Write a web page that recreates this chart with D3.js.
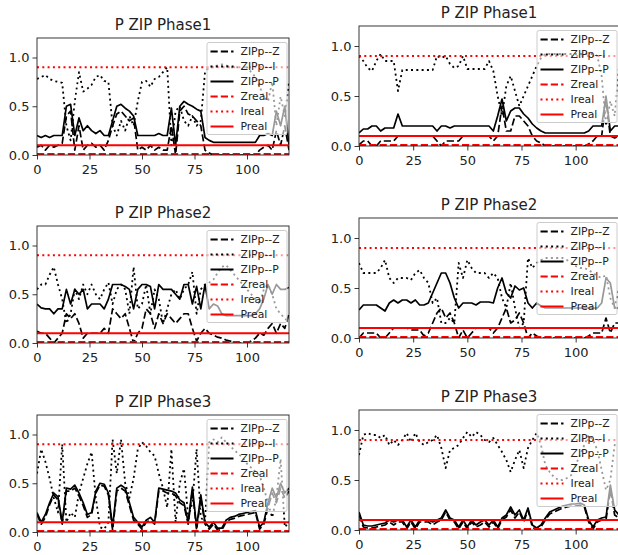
<!DOCTYPE html>
<html>
<head>
<meta charset="utf-8">
<script src="https://cdn.jsdelivr.net/npm/d3@7"></script>
<style>
body { margin: 0; background: #fff; }
text { font-family: "DejaVu Sans", sans-serif; fill: #222; }
</style>
</head>
<body>
<svg id="chart" width="618" height="555"></svg>
<script>
// sample positions (every 2 steps)
var sampleX = [0,2,4,6,8,10,12,14,16,18,20,22,24,26,28,30,32,34,36,38,40,42,44,46,48,50,52,54,56,58,
    60,62,64,66,68,70,72,74,76,78,80,82,84,86,88,90,92,94,96,98,100,102,104,106,108,110,112,114,116,118,120];

var xTicks = [0, 25, 50, 75, 100];
var yTicks = [0.0, 0.5, 1.0];
var legendLabels = ["ZIPp--Z", "ZIPp--I", "ZIPp--P", "Zreal", "Ireal", "Preal"];
var realValues = [0.01, 0.9, 0.1]; // Zreal, Ireal, Preal

// left column, phase 1
var l1Z = [.08,.10,.05,.10,.08,.10,.12,.40,.45,.05,
    .30,.05,.10,.12,.08,.10,.05,.15,.30,.42,
    .45,.40,.35,.38,.05,.08,.05,.10,.05,.08,
    .05,.05,.30,.00,.45,.50,.42,.40,.35,.30,
    .05,.02,.00,.00,.00,.00,.00,.00,.00,.00,
    .00,.00,.00,.05,.08,.10,.05,.25,.10,.30,
    .05];
var l1I = [.78,.80,.82,.78,.76,.75,.74,.30,.15,.55,
    .85,.65,.68,.72,.80,.82,.76,.75,.30,.20,
    .35,.25,.40,.30,.55,.75,.76,.70,.78,.80,
    .85,.90,.10,.45,.50,.35,.30,.40,.30,.35,
    .85,.90,.90,.92,.93,.92,.90,.90,.90,.88,
    .90,.85,.80,.70,.60,.55,.75,.30,.60,.40,
    .75];
var l1P = [.20,.18,.20,.18,.20,.20,.20,.50,.52,.20,
    .38,.25,.30,.25,.22,.25,.20,.20,.35,.50,
    .52,.48,.45,.40,.20,.20,.20,.20,.20,.22,
    .20,.20,.48,.10,.50,.55,.52,.50,.47,.45,
    .18,.15,.13,.13,.13,.13,.13,.13,.13,.13,
    .13,.13,.13,.20,.20,.22,.20,.45,.30,.50,
    .10];

// left column, phase 2
var l2Z = [.12,.10,.10,.05,.00,.05,.10,.30,.25,.30,
    .20,.05,.10,.10,.10,.10,.15,.10,.35,.30,
    .25,.30,.15,.00,.10,.15,.35,.30,.15,.30,
    .20,.30,.25,.20,.25,.30,.30,.15,.02,.10,
    .15,.10,.08,.06,.05,.03,.02,.01,.00,.00,
    .00,.02,.05,.10,.08,.15,.20,.10,.20,.15,
    .30];
var l2I = [.55,.60,.60,.70,.78,.60,.45,.20,.30,.55,
    .45,.60,.50,.60,.50,.45,.55,.62,.40,.55,
    .60,.55,.30,.78,.35,.40,.60,.30,.55,.45,
    .20,.35,.50,.55,.45,.55,.60,.73,.30,.55,
    .60,.62,.65,.72,.78,.80,.75,.70,.65,.60,
    .55,.50,.45,.40,.55,.60,.50,.35,.30,.25,
    .22];
var l2P = [.40,.36,.35,.35,.30,.35,.35,.55,.40,.55,
    .50,.55,.35,.40,.40,.40,.35,.45,.60,.60,
    .60,.58,.55,.35,.55,.60,.60,.58,.35,.60,
    .55,.55,.55,.50,.45,.60,.60,.40,.58,.35,
    .60,.35,.40,.38,.30,.28,.28,.28,.28,.28,
    .28,.28,.30,.35,.45,.60,.50,.60,.55,.55,
    .57];

// left column, phase 3
var l3Z = [.18,.08,.15,.28,.38,.33,.08,.42,.42,.45,
    .37,.27,.15,.18,.40,.48,.47,.38,.02,.42,
    .45,.42,.27,.12,.08,.03,.10,.12,.08,.42,
    .42,.40,.40,.37,.30,.27,.08,.43,.02,.35,
    .08,.03,.08,.02,.02,.10,.13,.14,.16,.17,
    .18,.19,.20,.03,.08,.25,.40,.30,.45,.35,
    .42];
var l3I = [.60,.85,.72,.55,.35,.20,.90,.10,.20,.15,
    .40,.55,.70,.82,.35,.05,.03,.10,.95,.60,
    .95,.50,.35,.55,.85,.92,.88,.82,.78,.60,
    .45,.25,.85,.10,.50,.65,.15,.30,.85,.15,
    .10,.92,.95,.92,.97,.92,.88,.84,.80,.76,
    .70,.66,.62,.58,.45,.30,.15,.35,.75,.05,
    .10];
var l3P = [.20,.10,.18,.30,.40,.36,.10,.45,.44,.48,
    .40,.30,.18,.20,.42,.50,.49,.40,.05,.45,
    .48,.45,.30,.15,.10,.05,.12,.15,.10,.45,
    .44,.43,.42,.40,.33,.30,.10,.46,.05,.38,
    .10,.05,.10,.04,.04,.12,.15,.16,.18,.19,
    .20,.21,.22,.05,.10,.30,.45,.35,.50,.40,
    .45];

// right column, phase 1
var r1Z = [.01,.05,.05,.00,.00,.05,.05,.05,.05,.10,
    .10,.10,.10,.10,.10,.10,.10,.10,.05,.00,
    .05,.05,.05,.05,.10,.10,.10,.10,.10,.10,
    .10,.05,.10,.40,.15,.15,.30,.30,.25,.20,
    .10,.05,.03,.00,.00,.00,.00,.00,.00,.00,
    .00,.00,.00,.02,.05,.10,.10,.45,.10,.08,
    .10];
var r1I = [.90,.85,.78,.75,.85,.92,.85,.85,.85,.55,
    .76,.76,.76,.76,.76,.76,.76,.76,.90,.88,
    .90,.82,.78,.80,.90,.77,.77,.77,.77,.77,
    .85,.75,.50,.30,.60,.70,.55,.40,.50,.60,
    .70,.80,.88,.92,.92,.92,.92,.92,.92,.92,
    .92,.92,.92,.92,.92,.90,.70,.20,.45,.30,
    .80];
var r1P = [.13,.17,.17,.20,.20,.15,.18,.18,.18,.32,
    .20,.20,.20,.20,.20,.20,.20,.20,.15,.20,
    .20,.18,.20,.20,.20,.20,.20,.20,.20,.20,
    .20,.15,.30,.47,.25,.35,.38,.38,.32,.28,
    .22,.18,.15,.13,.13,.13,.13,.13,.13,.13,
    .13,.13,.13,.15,.20,.20,.20,.50,.15,.20,
    .20];

// right column, phase 2
var r2Z = [.00,.05,.05,.05,.05,.00,.00,.05,.10,.10,
    .10,.10,.08,.08,.08,.02,.05,.15,.25,.30,
    .20,.25,.15,.00,.08,.00,.05,.10,.10,.10,
    .10,.05,.10,.20,.30,.15,.18,.25,.15,.00,
    .05,.02,.00,.00,.00,.00,.00,.00,.00,.00,
    .00,.00,.00,.02,.05,.05,.05,.20,.05,.15,
    .15];
var r2I = [.75,.65,.65,.65,.65,.70,.78,.60,.55,.60,
    .60,.60,.58,.65,.68,.60,.55,.35,.40,.15,
    .15,.20,.15,.75,.60,.78,.70,.65,.65,.65,
    .60,.65,.60,.40,.30,.55,.30,.10,.15,.80,
    .70,.75,.78,.80,.80,.80,.80,.80,.78,.75,
    .72,.70,.70,.68,.65,.62,.60,.63,.40,.30,
    .50];
var r2P = [.28,.33,.33,.33,.33,.30,.27,.35,.38,.35,
    .38,.38,.35,.38,.33,.33,.35,.45,.55,.65,
    .65,.55,.40,.30,.35,.35,.35,.33,.36,.36,
    .36,.35,.50,.60,.45,.40,.52,.48,.50,.35,
    .30,.35,.32,.30,.30,.30,.30,.30,.30,.30,
    .30,.30,.30,.30,.30,.30,.35,.60,.55,.30,
    .30];

// right column, phase 3
var r3Z = [.15,.03,.02,.02,.03,.04,.05,.08,.05,.08,
    .08,.01,.08,.01,.08,.08,.08,.05,.08,.10,
    .18,.10,.08,.01,.08,.01,.08,.03,.05,.08,
    .03,.08,.01,.10,.13,.20,.12,.18,.08,.20,
    .03,.00,.03,.10,.16,.18,.20,.22,.23,.24,
    .24,.25,.23,.08,.01,.08,.10,.10,.40,.15,
    .12];
var r3I = [.75,.95,.97,.95,.95,.92,.95,.85,.90,.85,
    .90,.97,.88,.97,.88,.85,.88,.90,.95,.82,
    .62,.80,.82,.85,.92,.98,.93,.98,.95,.90,
    .88,.92,.85,.78,.70,.58,.70,.80,.62,.82,
    .90,.97,.85,.65,.58,.53,.50,.50,.52,.55,
    .65,.75,.85,.95,.90,.80,.60,.40,.50,.85,
    .85];
var r3P = [.18,.05,.04,.04,.05,.06,.07,.10,.08,.10,
    .10,.03,.10,.03,.10,.10,.10,.08,.10,.12,
    .20,.12,.10,.03,.10,.03,.10,.05,.08,.10,
    .05,.10,.03,.12,.15,.23,.15,.20,.10,.22,
    .05,.02,.05,.12,.18,.20,.22,.24,.25,.26,
    .26,.27,.25,.10,.03,.10,.12,.13,.45,.20,
    .15];

var panels = [
    {title: "P ZIP Phase1", col: 0, row: 0, z: l1Z, i: l1I, p: l1P},
    {title: "P ZIP Phase2", col: 0, row: 1, z: l2Z, i: l2I, p: l2P},
    {title: "P ZIP Phase3", col: 0, row: 2, z: l3Z, i: l3I, p: l3P},
    {title: "P ZIP Phase1", col: 1, row: 0, z: r1Z, i: r1I, p: r1P},
    {title: "P ZIP Phase2", col: 1, row: 1, z: r2Z, i: r2I, p: r2P},
    {title: "P ZIP Phase3", col: 1, row: 2, z: r3Z, i: r3I, p: r3P}
];

var columns = [
    {left: 37, right: 289, tops: [38, 226, 415], height: 117},
    {left: 359, right: 619, tops: [26, 218, 410], height: 120}
];

var dashed = "7.2,3.1",
    dotted = "2,3.3";
var styles = [
    {color: "black", dash: dashed, width: 1.7},
    {color: "black", dash: dotted, width: 1.8},
    {color: "black", dash: null, width: 1.7},
    {color: "red", dash: dashed, width: 2},
    {color: "red", dash: dotted, width: 2},
    {color: "red", dash: null, width: 2}
];

var svg = d3.select("#chart");

panels.forEach(function(pn, k) {
    var c = columns[pn.col],
        top = c.tops[pn.row],
        bottom = top + c.height;

    var x = d3.scaleLinear().domain([0, 120]).range([c.left, c.right]),
        y = d3.scaleLinear().domain([0, 1.2]).range([bottom, top]);

    var g = svg.append("g");

    g.append("clipPath").attr("id", "clip" + k)
        .append("rect")
        .attr("x", c.left).attr("y", top)
        .attr("width", c.right - c.left).attr("height", c.height);

    var line = d3.line()
        .x(function(d) { return x(d[0]); })
        .y(function(d) { return y(d[1]); });

    var plot = g.append("g").attr("clip-path", "url(#clip" + k + ")");

    var series = [pn.z, pn.i, pn.p].map(function(vals) {
        return sampleX.map(function(sx, j) { return [sx, vals[j]]; });
    });
    realValues.forEach(function(v) {
        series.push([[0, v], [120, v]]);
    });

    series.forEach(function(s, j) {
        plot.append("path")
            .datum(s)
            .attr("fill", "none")
            .attr("stroke", styles[j].color)
            .attr("stroke-width", styles[j].width)
            .attr("stroke-linejoin", "round")
            .attr("stroke-dasharray", styles[j].dash)
            .attr("d", line);
    });

    // axes
    var xAxis = g.append("g")
        .attr("transform", "translate(0," + bottom + ")")
        .call(d3.axisBottom(x).tickValues(xTicks).tickSize(4.5).tickPadding(5.5).tickFormat(d3.format("d")));
    var yAxis = g.append("g")
        .attr("transform", "translate(" + c.left + ",0)")
        .call(d3.axisLeft(y).tickValues(yTicks).tickSize(4.5).tickPadding(3).tickFormat(d3.format(".1f")));
    [xAxis, yAxis].forEach(function(a) {
        a.select(".domain").remove();
        a.selectAll("line").attr("stroke", "#222").attr("stroke-width", 0.9);
        a.selectAll("text").attr("font-size", 13).attr("font-family", "DejaVu Sans").attr("fill", "#222");
    });

    g.append("rect")
        .attr("x", c.left).attr("y", top)
        .attr("width", c.right - c.left).attr("height", c.height)
        .attr("fill", "none")
        .attr("stroke", "#222")
        .attr("stroke-width", 0.9);

    g.append("text")
        .attr("x", (c.left + c.right) / 2)
        .attr("y", top - 8.5)
        .attr("text-anchor", "middle")
        .attr("font-size", 15)
        .text(pn.title);

    // legend
    var lx = c.right - 82,
        ly = top + 4.5;
    var legend = g.append("g");
    legend.append("rect")
        .attr("x", lx).attr("y", ly)
        .attr("width", 80).attr("height", 92)
        .attr("rx", 2)
        .attr("fill", "white")
        .attr("fill-opacity", 0.6)
        .attr("stroke", "#cccccc")
        .attr("stroke-width", 1);

    legendLabels.forEach(function(lab, j) {
        var ry = ly + 9 + j * 15;
        legend.append("line")
            .attr("x1", lx + 3.5).attr("x2", lx + 26.5)
            .attr("y1", ry).attr("y2", ry)
            .attr("stroke", styles[j].color)
            .attr("stroke-width", 2)
            .attr("stroke-dasharray", styles[j].dash);
        legend.append("text")
            .attr("x", lx + 33.5)
            .attr("y", ry)
            .attr("dy", "0.36em")
            .attr("font-size", 10.8)
            .text(lab);
    });
});
</script>
</body>
</html>
